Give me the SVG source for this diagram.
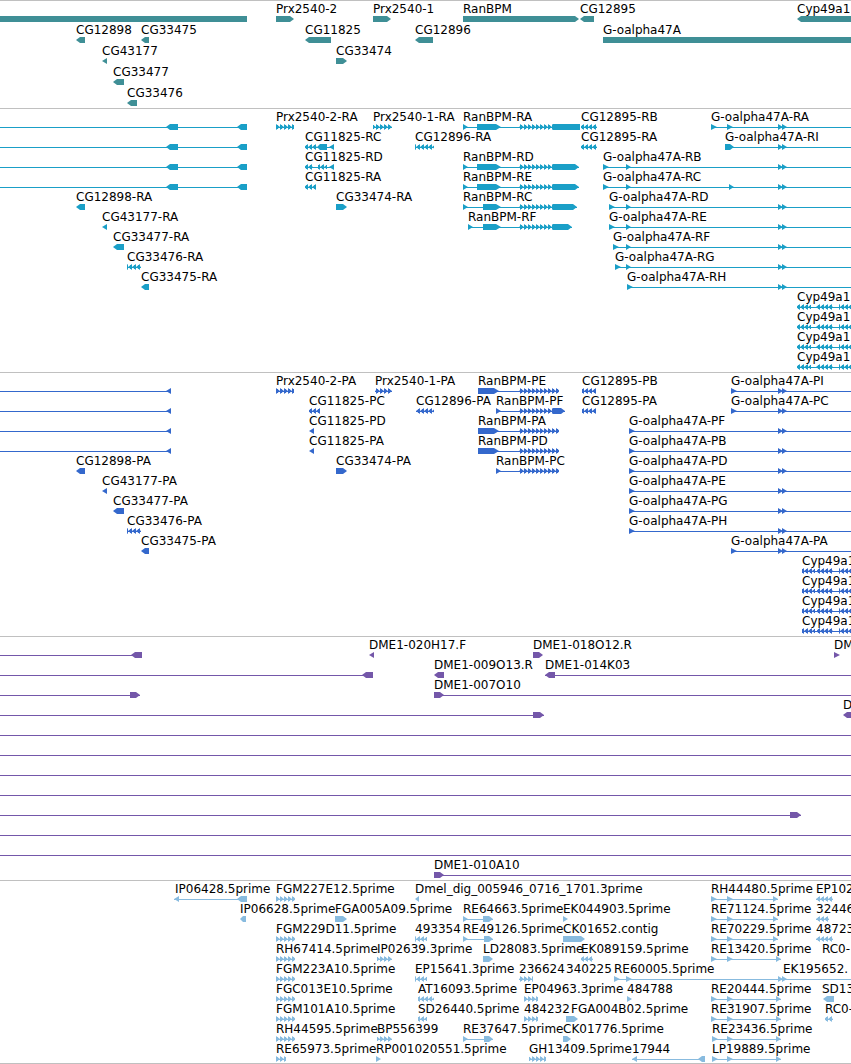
<svg xmlns="http://www.w3.org/2000/svg" width="851" height="1064" viewBox="0 0 851 1064">
<style>
text{font-family:"DejaVu Sans","Liberation Sans",sans-serif;font-size:12px;fill:#000}
.sep{stroke:#c0c0c0;stroke-width:1}
.f1{fill:#3f8f96}
.f2{fill:#1a9fc7}
.f3{fill:#3468cc}
.f4{fill:#7457a9}
.f5{fill:#88bbdf}
.l2{stroke:#1a9fc7;fill:none}
.l3{stroke:#3468cc;fill:none}
.l4{stroke:#7457a9;fill:none}
.l5{stroke:#88bbdf;fill:none}
.c2r{fill:url(#r2)}.c2l{fill:url(#L2)}
.c3r{fill:url(#r3)}.c3l{fill:url(#L3)}
.c5r{fill:url(#r5)}.c5l{fill:url(#L5)}
</style>
<defs>
<pattern id="r2" patternUnits="userSpaceOnUse" x="0" y="-3" width="4" height="6"><g fill="#1a9fc7"><path d="M0 0L4 3L0 6Z"/><path d="M0 1H2V5H0Z"/><path d="M0 3H4V4H0Z"/></g></pattern>
<pattern id="L2" patternUnits="userSpaceOnUse" x="0" y="-3" width="4" height="6"><g fill="#1a9fc7"><path d="M4 0L0 3L4 6Z"/><path d="M2 1H4V5H2Z"/><path d="M0 3H4V4H0Z"/></g></pattern>
<pattern id="r3" patternUnits="userSpaceOnUse" x="0" y="-3" width="4" height="6"><g fill="#3468cc"><path d="M0 0L4 3L0 6Z"/><path d="M0 1H2V5H0Z"/><path d="M0 3H4V4H0Z"/></g></pattern>
<pattern id="L3" patternUnits="userSpaceOnUse" x="0" y="-3" width="4" height="6"><g fill="#3468cc"><path d="M4 0L0 3L4 6Z"/><path d="M2 1H4V5H2Z"/><path d="M0 3H4V4H0Z"/></g></pattern>
<pattern id="r5" patternUnits="userSpaceOnUse" x="0" y="-3" width="4" height="6"><g fill="#88bbdf"><path d="M0 0L4 3L0 6Z"/><path d="M0 1H2V5H0Z"/><path d="M0 3H4V4H0Z"/></g></pattern>
<pattern id="L5" patternUnits="userSpaceOnUse" x="0" y="-3" width="4" height="6"><g fill="#88bbdf"><path d="M4 0L0 3L4 6Z"/><path d="M2 1H4V5H2Z"/><path d="M0 3H4V4H0Z"/></g></pattern>
</defs>
<rect width="851" height="1064" fill="#fff"/>
<g id="separators">
<path class="sep" d="M0 0.5H851M0 108.5H851M0 372.5H851M0 636.5H851M0 880.5H851M0 1063.5H851"/>
</g>

<g id="track-genes">
<g transform="translate(0,19)">
<g id="g-left"><path class="f1" d="M0 -3H247V3H0Z"/></g>
<g id="g-Prx2540-2"><text x="276" y="-6">Prx2540-2</text><path class="f1" d="M276 -3H290L294 0L290 3H276Z"/></g>
<g id="g-Prx2540-1"><text x="373" y="-6">Prx2540-1</text><path class="f1" d="M373 -3H387L391 0L387 3H373Z"/></g>
<g id="g-RanBPM"><text x="463" y="-6">RanBPM</text><path class="f1" d="M463 -3H575L579 0L575 3H463Z"/></g>
<g id="g-CG12895"><text x="580" y="-6">CG12895</text><path class="f1" d="M580 0L584 -3H594V3H584Z"/></g>
<g id="g-Cyp49a1"><text x="797" y="-6">Cyp49a1</text><path class="f1" d="M797 0L801 -3H860V3H801Z"/></g>
</g>
<g transform="translate(0,40)">
<g id="g-CG12898"><text x="76" y="-6">CG12898</text><path class="f1" d="M76 0L80 -3H85V3H80Z"/></g>
<g id="g-CG33475"><text x="141" y="-6">CG33475</text><path class="f1" d="M141 0L145 -3H149V3H145Z"/></g>
<g id="g-CG11825"><text x="305" y="-6">CG11825</text><path class="f1" d="M305 0L309 -3H331V3H309Z"/></g>
<g id="g-CG12896"><text x="415" y="-6">CG12896</text><path class="f1" d="M415 0L419 -3H433V3H419Z"/></g>
<g id="g-Goalpha47A"><text x="603" y="-6">G-oalpha47A</text><path class="f1" d="M603 -3H860V3H603Z"/></g>
</g>
<g transform="translate(0,61)">
<g id="g-CG43177"><text x="102" y="-6">CG43177</text><path class="f1" d="M102 0L107 -3V3Z"/></g>
<g id="g-CG33474"><text x="336" y="-6">CG33474</text><path class="f1" d="M336 -3H343L347 0L343 3H336Z"/></g>
</g>
<g transform="translate(0,82)">
<g id="g-CG33477"><text x="113" y="-6">CG33477</text><path class="f1" d="M113 0L117 -3H124V3H117Z"/></g>
</g>
<g transform="translate(0,103)">
<g id="g-CG33476"><text x="127" y="-6">CG33476</text><path class="f1" d="M127 0L131 -3H137V3H131Z"/></g>
</g>
</g>

<g id="track-transcripts">
<g transform="translate(0,127)">
<g id="t-left-1"><path class="l2" d="M0 .5H247"/><path class="f2" d="M166 0L170 -3H178V3H170ZM237 0L241 -3H247V3H241Z"/></g>
<g id="t-Prx2540-2-RA"><text x="276" y="-6">Prx2540-2-RA</text><rect class="c2r" x="276" y="-3" width="18" height="6"/></g>
<g id="t-Prx2540-1-RA"><text x="373" y="-6">Prx2540-1-RA</text><rect class="c2r" x="373" y="-3" width="19" height="6"/></g>
<g id="t-RanBPM-RA"><text x="463" y="-6">RanBPM-RA</text><path class="l2" d="M463 .5H580"/><path class="f2" d="M463 -3L468 0L463 3ZM477 -3H496L501 0L496 3H477ZM553 -3H580V3H553Z"/><rect class="c2r" x="519" y="-3" width="34" height="6"/></g>
<g id="t-CG12895-RB"><text x="581" y="-6">CG12895-RB</text><rect class="c2l" x="581" y="-3" width="16" height="6"/></g>
<g id="t-Goalpha47A-RA"><text x="711" y="-6">G-oalpha47A-RA</text><path class="l2" d="M711 .5H851"/><path class="f2" d="M711 -3L717 0L711 3ZM727 -3L733 0L727 3ZM778 -3L783 0L778 3ZM782 -3L787 0L782 3Z"/></g>
</g>
<g transform="translate(0,147)">
<g id="t-left-2"><path class="l2" d="M0 .5H247"/><path class="f2" d="M166 0L170 -3H178V3H170ZM237 0L241 -3H247V3H241Z"/></g>
<g id="t-CG11825-RC"><text x="305" y="-6">CG11825-RC</text><path class="l2" d="M305 .5H334"/><rect class="c2l" x="305" y="-3" width="12" height="6"/><path class="f2" d="M317 0L320 -3H327V3H320ZM329 0L334 -3V3Z"/></g>
<g id="t-CG12896-RA"><text x="415" y="-6">CG12896-RA</text><rect class="c2l" x="415" y="-3" width="19" height="6"/></g>
<g id="t-CG12895-RA"><text x="581" y="-6">CG12895-RA</text><rect class="c2l" x="581" y="-3" width="16" height="6"/></g>
<g id="t-Goalpha47A-RI"><text x="725" y="-6">G-oalpha47A-RI</text><path class="l2" d="M725 .5H851"/><path class="f2" d="M725 -3H730L734 0L730 3H725ZM778 -3L783 0L778 3ZM782 -3L787 0L782 3Z"/></g>
</g>
<g transform="translate(0,167)">
<g id="t-left-3"><path class="l2" d="M0 .5H247"/><path class="f2" d="M166 0L170 -3H178V3H170ZM237 0L241 -3H247V3H241Z"/></g>
<g id="t-CG11825-RD"><text x="305" y="-6">CG11825-RD</text><path class="l2" d="M305 .5H334"/><rect class="c2l" x="305" y="-3" width="8" height="6"/><rect class="c2l" x="318" y="-3" width="9" height="6"/><path class="f2" d="M329 0L334 -3V3Z"/></g>
<g id="t-RanBPM-RD"><text x="463" y="-6">RanBPM-RD</text><path class="l2" d="M463 .5H579"/><path class="f2" d="M463 -3L468 0L463 3ZM477 -3H496L501 0L496 3H477ZM553 -3H575L579 0L575 3H553Z"/><rect class="c2r" x="519" y="-3" width="34" height="6"/></g>
<g id="t-Goalpha47A-RB"><text x="603" y="-6">G-oalpha47A-RB</text><path class="l2" d="M603 .5H851"/><path class="f2" d="M603 -3L609 0L603 3ZM626 -3L631 0L626 3ZM778 -3L783 0L778 3ZM782 -3L787 0L782 3Z"/></g>
</g>
<g transform="translate(0,187)">
<g id="t-left-4"><path class="l2" d="M0 .5H247"/><path class="f2" d="M166 0L170 -3H178V3H170ZM237 0L241 -3H247V3H241Z"/></g>
<g id="t-CG11825-RA"><text x="305" y="-6">CG11825-RA</text><rect class="c2l" x="305" y="-3" width="11" height="6"/></g>
<g id="t-RanBPM-RE"><text x="463" y="-6">RanBPM-RE</text><path class="l2" d="M463 .5H579"/><path class="f2" d="M463 -3L468 0L463 3ZM477 -3H496L501 0L496 3H477ZM553 -3H575L579 0L575 3H553Z"/><rect class="c2r" x="519" y="-3" width="34" height="6"/></g>
<g id="t-Goalpha47A-RC"><text x="603" y="-6">G-oalpha47A-RC</text><path class="l2" d="M603 .5H851"/><path class="f2" d="M603 -3L609 0L603 3ZM626 -3L631 0L626 3ZM729 -3L734 0L729 3ZM778 -3L783 0L778 3ZM782 -3L787 0L782 3Z"/></g>
</g>
<g transform="translate(0,207)">
<g id="t-CG12898-RA"><text x="76" y="-6">CG12898-RA</text><path class="f2" d="M76 0L80 -3H85V3H80Z"/></g>
<g id="t-CG33474-RA"><text x="336" y="-6">CG33474-RA</text><path class="f2" d="M336 -3H343L347 0L343 3H336Z"/></g>
<g id="t-RanBPM-RC"><text x="463" y="-6">RanBPM-RC</text><path class="l2" d="M463 .5H577"/><path class="f2" d="M463 -3L468 0L463 3ZM483 -3H496L501 0L496 3H483ZM553 -3H573L577 0L573 3H553Z"/><rect class="c2r" x="519" y="-3" width="34" height="6"/></g>
<g id="t-Goalpha47A-RD"><text x="609" y="-6">G-oalpha47A-RD</text><path class="l2" d="M609 .5H851"/><path class="f2" d="M609 -3L615 0L609 3ZM626 -3L631 0L626 3ZM778 -3L783 0L778 3ZM782 -3L787 0L782 3Z"/></g>
</g>
<g transform="translate(0,227)">
<g id="t-CG43177-RA"><text x="102" y="-6">CG43177-RA</text><path class="f2" d="M102 0L107 -3V3Z"/></g>
<g id="t-RanBPM-RF"><text x="468" y="-6">RanBPM-RF</text><path class="l2" d="M468 .5H572"/><path class="f2" d="M468 -3L473 0L468 3ZM483 -3H496L501 0L496 3H483ZM553 -3H568L572 0L568 3H553Z"/><rect class="c2r" x="519" y="-3" width="34" height="6"/></g>
<g id="t-Goalpha47A-RE"><text x="609" y="-6">G-oalpha47A-RE</text><path class="l2" d="M609 .5H851"/><path class="f2" d="M609 -3L615 0L609 3ZM626 -3L631 0L626 3ZM778 -3L783 0L778 3ZM782 -3L787 0L782 3Z"/></g>
</g>
<g transform="translate(0,247)">
<g id="t-CG33477-RA"><text x="113" y="-6">CG33477-RA</text><path class="f2" d="M113 0L117 -3H124V3H117Z"/></g>
<g id="t-Goalpha47A-RF"><text x="613" y="-6">G-oalpha47A-RF</text><path class="l2" d="M613 .5H851"/><path class="f2" d="M613 -3L619 0L613 3ZM626 -3L631 0L626 3ZM778 -3L783 0L778 3ZM782 -3L787 0L782 3Z"/></g>
</g>
<g transform="translate(0,267)">
<g id="t-CG33476-RA"><text x="127" y="-6">CG33476-RA</text><rect class="c2l" x="127" y="-3" width="14" height="6"/></g>
<g id="t-Goalpha47A-RG"><text x="615" y="-6">G-oalpha47A-RG</text><path class="l2" d="M615 .5H851"/><path class="f2" d="M615 -3L621 0L615 3ZM626 -3L631 0L626 3ZM778 -3L783 0L778 3ZM782 -3L787 0L782 3Z"/></g>
</g>
<g transform="translate(0,287)">
<g id="t-CG33475-RA"><text x="141" y="-6">CG33475-RA</text><path class="f2" d="M141 0L145 -3H149V3H145Z"/></g>
<g id="t-Goalpha47A-RH"><text x="627" y="-6">G-oalpha47A-RH</text><path class="l2" d="M627 .5H851"/><path class="f2" d="M627 -3L633 0L627 3ZM778 -3L783 0L778 3ZM782 -3L787 0L782 3Z"/></g>
</g>
<g id="t-Cyp49a1-1" transform="translate(0,307)"><text x="797" y="-6">Cyp49a1</text><path class="l2" d="M797 .5H851"/><rect class="c2l" x="797" y="-3" width="14" height="6"/><rect class="c2l" x="816" y="-3" width="17" height="6"/><rect class="c2l" x="839" y="-3" width="12" height="6"/></g>
<g id="t-Cyp49a1-2" transform="translate(0,327)"><text x="797" y="-6">Cyp49a1</text><path class="l2" d="M797 .5H851"/><rect class="c2l" x="797" y="-3" width="14" height="6"/><rect class="c2l" x="816" y="-3" width="17" height="6"/><rect class="c2l" x="839" y="-3" width="12" height="6"/></g>
<g id="t-Cyp49a1-3" transform="translate(0,347)"><text x="797" y="-6">Cyp49a1</text><path class="l2" d="M797 .5H851"/><rect class="c2l" x="797" y="-3" width="14" height="6"/><rect class="c2l" x="816" y="-3" width="17" height="6"/><rect class="c2l" x="839" y="-3" width="12" height="6"/></g>
<g id="t-Cyp49a1-4" transform="translate(0,367)"><text x="797" y="-6">Cyp49a1</text><path class="l2" d="M797 .5H851"/><rect class="c2l" x="797" y="-3" width="14" height="6"/><rect class="c2l" x="816" y="-3" width="17" height="6"/><rect class="c2l" x="839" y="-3" width="12" height="6"/></g>
</g>

<g id="track-proteins">
<g transform="translate(0,391)">
<g id="p-left-1"><path class="l3" d="M0 .5H171"/><path class="f3" d="M166 0L171 -3V3Z"/></g>
<g id="p-Prx2540-2-PA"><text x="276" y="-6">Prx2540-2-PA</text><rect class="c3r" x="276" y="-3" width="18" height="6"/></g>
<g id="p-Prx2540-1-PA"><text x="375" y="-6">Prx2540-1-PA</text><rect class="c3r" x="375" y="-3" width="17" height="6"/></g>
<g id="p-RanBPM-PE"><text x="478" y="-6">RanBPM-PE</text><path class="l3" d="M478 .5H559"/><path class="f3" d="M478 -3H494L499 0L494 3H478Z"/><rect class="c3r" x="519" y="-3" width="40" height="6"/></g>
<g id="p-CG12895-PB"><text x="582" y="-6">CG12895-PB</text><rect class="c3l" x="582" y="-3" width="14" height="6"/></g>
<g id="p-Goalpha47A-PI"><text x="731" y="-6">G-oalpha47A-PI</text><path class="l3" d="M731 .5H851"/><path class="f3" d="M731 -3L737 0L731 3ZM778 -3L783 0L778 3ZM782 -3L787 0L782 3Z"/></g>
</g>
<g transform="translate(0,411)">
<g id="p-left-2"><path class="l3" d="M0 .5H171"/><path class="f3" d="M166 0L171 -3V3Z"/></g>
<g id="p-CG11825-PC"><text x="309" y="-6">CG11825-PC</text><rect class="c3l" x="309" y="-3" width="11" height="6"/></g>
<g id="p-CG12896-PA"><text x="416" y="-6">CG12896-PA</text><rect class="c3l" x="416" y="-3" width="18" height="6"/></g>
<g id="p-RanBPM-PF"><text x="496" y="-6">RanBPM-PF</text><path class="l3" d="M496 .5H565"/><path class="f3" d="M496 -3L501 0L496 3ZM553 -3H561L565 0L561 3H553Z"/><rect class="c3r" x="519" y="-3" width="34" height="6"/></g>
<g id="p-CG12895-PA"><text x="582" y="-6">CG12895-PA</text><rect class="c3l" x="582" y="-3" width="14" height="6"/></g>
<g id="p-Goalpha47A-PC"><text x="731" y="-6">G-oalpha47A-PC</text><path class="l3" d="M731 .5H851"/><path class="f3" d="M731 -3L737 0L731 3ZM778 -3L783 0L778 3ZM782 -3L787 0L782 3Z"/></g>
</g>
<g transform="translate(0,431)">
<g id="p-left-3"><path class="l3" d="M0 .5H171"/><path class="f3" d="M166 0L171 -3V3Z"/></g>
<g id="p-CG11825-PD"><text x="309" y="-6">CG11825-PD</text><path class="f3" d="M309 0L314 -3V3Z"/></g>
<g id="p-RanBPM-PA"><text x="478" y="-6">RanBPM-PA</text><path class="l3" d="M478 .5H559"/><path class="f3" d="M478 -3H494L499 0L494 3H478Z"/><rect class="c3r" x="519" y="-3" width="40" height="6"/></g>
<g id="p-Goalpha47A-PF"><text x="629" y="-6">G-oalpha47A-PF</text><path class="l3" d="M629 .5H851"/><path class="f3" d="M629 -3L635 0L629 3ZM778 -3L783 0L778 3ZM782 -3L787 0L782 3Z"/></g>
</g>
<g transform="translate(0,451)">
<g id="p-left-4"><path class="l3" d="M0 .5H171"/><path class="f3" d="M166 0L171 -3V3Z"/></g>
<g id="p-CG11825-PA"><text x="309" y="-6">CG11825-PA</text><path class="f3" d="M309 0L314 -3V3Z"/></g>
<g id="p-RanBPM-PD"><text x="478" y="-6">RanBPM-PD</text><path class="l3" d="M478 .5H559"/><path class="f3" d="M478 -3H494L499 0L494 3H478Z"/><rect class="c3r" x="519" y="-3" width="40" height="6"/></g>
<g id="p-Goalpha47A-PB"><text x="629" y="-6">G-oalpha47A-PB</text><path class="l3" d="M629 .5H851"/><path class="f3" d="M629 -3L635 0L629 3ZM778 -3L783 0L778 3ZM782 -3L787 0L782 3Z"/></g>
</g>
<g transform="translate(0,471)">
<g id="p-CG12898-PA"><text x="76" y="-6">CG12898-PA</text><path class="f3" d="M76 0L80 -3H85V3H80Z"/></g>
<g id="p-CG33474-PA"><text x="336" y="-6">CG33474-PA</text><path class="f3" d="M336 -3H343L347 0L343 3H336Z"/></g>
<g id="p-RanBPM-PC"><text x="496" y="-6">RanBPM-PC</text><path class="l3" d="M496 .5H559"/><path class="f3" d="M496 -3L501 0L496 3Z"/><rect class="c3r" x="519" y="-3" width="40" height="6"/></g>
<g id="p-Goalpha47A-PD"><text x="629" y="-6">G-oalpha47A-PD</text><path class="l3" d="M629 .5H851"/><path class="f3" d="M629 -3L635 0L629 3ZM778 -3L783 0L778 3ZM782 -3L787 0L782 3Z"/></g>
</g>
<g transform="translate(0,491)">
<g id="p-CG43177-PA"><text x="102" y="-6">CG43177-PA</text><path class="f3" d="M102 0L107 -3V3Z"/></g>
<g id="p-Goalpha47A-PE"><text x="629" y="-6">G-oalpha47A-PE</text><path class="l3" d="M629 .5H851"/><path class="f3" d="M629 -3L635 0L629 3ZM778 -3L783 0L778 3ZM782 -3L787 0L782 3Z"/></g>
</g>
<g transform="translate(0,511)">
<g id="p-CG33477-PA"><text x="113" y="-6">CG33477-PA</text><path class="f3" d="M113 0L117 -3H124V3H117Z"/></g>
<g id="p-Goalpha47A-PG"><text x="629" y="-6">G-oalpha47A-PG</text><path class="l3" d="M629 .5H851"/><path class="f3" d="M629 -3L635 0L629 3ZM778 -3L783 0L778 3ZM782 -3L787 0L782 3Z"/></g>
</g>
<g transform="translate(0,531)">
<g id="p-CG33476-PA"><text x="127" y="-6">CG33476-PA</text><rect class="c3l" x="127" y="-3" width="14" height="6"/></g>
<g id="p-Goalpha47A-PH"><text x="629" y="-6">G-oalpha47A-PH</text><path class="l3" d="M629 .5H851"/><path class="f3" d="M629 -3L635 0L629 3ZM778 -3L783 0L778 3ZM782 -3L787 0L782 3Z"/></g>
</g>
<g transform="translate(0,551)">
<g id="p-CG33475-PA"><text x="141" y="-6">CG33475-PA</text><path class="f3" d="M141 0L145 -3H149V3H145Z"/></g>
<g id="p-Goalpha47A-PA"><text x="731" y="-6">G-oalpha47A-PA</text><path class="l3" d="M731 .5H851"/><path class="f3" d="M731 -3L737 0L731 3ZM778 -3L783 0L778 3ZM782 -3L787 0L782 3Z"/></g>
</g>
<g id="p-Cyp49a1-1" transform="translate(0,571)"><text x="802" y="-6">Cyp49a1</text><path class="l3" d="M802 .5H851"/><rect class="c3l" x="802" y="-3" width="13" height="6"/><rect class="c3l" x="817" y="-3" width="16" height="6"/><rect class="c3l" x="839" y="-3" width="12" height="6"/></g>
<g id="p-Cyp49a1-2" transform="translate(0,591)"><text x="802" y="-6">Cyp49a1</text><path class="l3" d="M802 .5H851"/><rect class="c3l" x="802" y="-3" width="13" height="6"/><rect class="c3l" x="817" y="-3" width="16" height="6"/><rect class="c3l" x="839" y="-3" width="12" height="6"/></g>
<g id="p-Cyp49a1-3" transform="translate(0,611)"><text x="802" y="-6">Cyp49a1</text><path class="l3" d="M802 .5H851"/><rect class="c3l" x="802" y="-3" width="13" height="6"/><rect class="c3l" x="817" y="-3" width="16" height="6"/><rect class="c3l" x="839" y="-3" width="12" height="6"/></g>
<g id="p-Cyp49a1-4" transform="translate(0,631)"><text x="802" y="-6">Cyp49a1</text><path class="l3" d="M802 .5H851"/><rect class="c3l" x="802" y="-3" width="13" height="6"/><rect class="c3l" x="817" y="-3" width="16" height="6"/><rect class="c3l" x="839" y="-3" width="12" height="6"/></g>
</g>

<g id="track-bac-ends">
<g transform="translate(0,655)">
<g id="b-left-1"><path class="l4" d="M0 .5H142"/><path class="f4" d="M131 0L135 -3H142V3H135Z"/></g>
<g id="b-DME1-020H17F"><text x="369" y="-6">DME1-020H17.F</text><path class="f4" d="M369 0L374 -3V3Z"/></g>
<g id="b-DME1-018O12R"><text x="533" y="-6">DME1-018O12.R</text><path class="f4" d="M533 -3H539L543 0L539 3H533Z"/></g>
<g id="b-DM"><text x="834" y="-6">DM</text><path class="f4" d="M834 -3L840 0L834 3Z"/></g>
</g>
<g transform="translate(0,675)">
<g id="b-left-2"><path class="l4" d="M0 .5H373"/><path class="f4" d="M362 0L366 -3H373V3H366Z"/></g>
<g id="b-DME1-009O13R"><text x="434" y="-6">DME1-009O13.R</text><path class="f4" d="M434 0L438 -3H444V3H438Z"/></g>
<g id="b-DME1-014K03"><text x="545" y="-6">DME1-014K03</text><path class="l4" d="M545 .5H851"/><path class="f4" d="M545 0L549 -3H555V3H549Z"/></g>
</g>
<g transform="translate(0,695)">
<g id="b-left-3"><path class="l4" d="M0 .5H140"/><path class="f4" d="M130 -3H136L140 0L136 3H130Z"/></g>
<g id="b-DME1-007O10"><text x="434" y="-6">DME1-007O10</text><path class="l4" d="M434 .5H851"/><path class="f4" d="M434 -3H440L444 0L440 3H434Z"/></g>
</g>
<g transform="translate(0,715)">
<g id="b-left-4"><path class="l4" d="M0 .5H544"/><path class="f4" d="M533 -3H540L544 0L540 3H533Z"/></g>
<g id="b-D"><text x="843" y="-6">D</text><path class="f4" d="M843 0L847 -3H855V3H847Z"/></g>
</g>
<g id="b-left-5"><path class="l4" d="M0 735.5H851M0 755.5H851M0 775.5H851M0 795.5H851M0 835.5H851M0 855.5H851"/></g>
<g id="b-left-6" transform="translate(0,815)"><path class="l4" d="M0 .5H801"/><path class="f4" d="M790 -3H797L801 0L797 3H790Z"/></g>
<g id="b-DME1-010A10" transform="translate(0,875)"><text x="434" y="-6">DME1-010A10</text><path class="l4" d="M434 .5H851"/><path class="f4" d="M434 -3H440L444 0L440 3H434Z"/></g>
</g>

<g id="track-ests">
<g transform="translate(0,899)">
<g id="e-IP06428"><text x="175" y="-6">IP06428.5prime</text><path class="l5" d="M174 .5H247"/><path class="f5" d="M174 0L179 -3V3ZM237 0L241 -3H247V3H241Z"/></g>
<g id="e-FGM227E12"><text x="276" y="-6">FGM227E12.5prime</text><rect class="c5r" x="276" y="-3" width="19" height="6"/></g>
<g id="e-Dmel_dig"><text x="415" y="-6">Dmel_dig_005946_0716_1701.3prime</text><path class="f5" d="M415 0L419 -3V3Z"/></g>
<g id="e-RH44480"><text x="711" y="-6">RH44480.5prime</text><path class="l5" d="M711 .5H778"/><path class="f5" d="M711 -3L717 0L711 3ZM727 -3L733 0L727 3ZM773 -3L778 0L773 3Z"/></g>
<g id="e-EP102"><text x="816" y="-6">EP102</text><rect class="c5l" x="816" y="-3" width="17" height="6"/></g>
</g>
<g transform="translate(0,919)">
<g id="e-IP06628"><text x="240" y="-6">IP06628.5prime</text><path class="f5" d="M240 0L243 -3H246V3H243Z"/></g>
<g id="e-FGA005A09"><text x="335" y="-6">FGA005A09.5prime</text><path class="f5" d="M335 -3H343L347 0L343 3H335Z"/></g>
<g id="e-RE64663"><text x="463" y="-6">RE64663.5prime</text><path class="l5" d="M463 .5H493"/><path class="f5" d="M463 -3L468 0L463 3ZM483 -3H489L493 0L489 3H483Z"/></g>
<g id="e-EK044903"><text x="563" y="-6">EK044903.5prime</text><path class="f5" d="M563 -3L568 0L563 3Z"/></g>
<g id="e-RE71124"><text x="711" y="-6">RE71124.5prime</text><path class="l5" d="M711 .5H778"/><path class="f5" d="M711 -3L717 0L711 3ZM727 -3L733 0L727 3ZM773 -3L778 0L773 3Z"/></g>
<g id="e-32446"><text x="816" y="-6">32446</text><rect class="c5l" x="816" y="-3" width="13" height="6"/></g>
</g>
<g transform="translate(0,939)">
<g id="e-FGM229D11"><text x="276" y="-6">FGM229D11.5prime</text><rect class="c5r" x="276" y="-3" width="19" height="6"/></g>
<g id="e-493354"><text x="415" y="-6">493354</text><rect class="c5l" x="415" y="-3" width="12" height="6"/></g>
<g id="e-RE49126"><text x="463" y="-6">RE49126.5prime</text><path class="l5" d="M463 .5H493"/><path class="f5" d="M463 -3L468 0L463 3ZM484 -3H489L493 0L489 3H484Z"/></g>
<g id="e-CK01652"><text x="563" y="-6">CK01652.contig</text><path class="f5" d="M563 -3H581L585 0L581 3H563Z"/></g>
<g id="e-RE70229"><text x="711" y="-6">RE70229.5prime</text><path class="l5" d="M711 .5H778"/><path class="f5" d="M711 -3L717 0L711 3ZM727 -3L733 0L727 3ZM773 -3L778 0L773 3Z"/></g>
<g id="e-48723"><text x="816" y="-6">48723</text><rect class="c5l" x="816" y="-3" width="17" height="6"/></g>
</g>
<g transform="translate(0,959)">
<g id="e-RH67414"><text x="276" y="-6">RH67414.5prime</text><rect class="c5r" x="276" y="-3" width="19" height="6"/></g>
<g id="e-IP02639"><text x="377" y="-6">IP02639.3prime</text><rect class="c5r" x="377" y="-3" width="15" height="6"/></g>
<g id="e-LD28083"><text x="483" y="-6">LD28083.5prime</text><path class="f5" d="M483 -3H489L493 0L489 3H483Z"/></g>
<g id="e-EK089159"><text x="581" y="-6">EK089159.5prime</text><rect class="c5l" x="581" y="-3" width="12" height="6"/></g>
<g id="e-RE13420"><text x="711" y="-6">RE13420.5prime</text><path class="l5" d="M711 .5H781"/><path class="f5" d="M711 -3L717 0L711 3ZM727 -3L733 0L727 3ZM776 -3L781 0L776 3Z"/></g>
<g id="e-RC0-a"><text x="822" y="-6">RC0-</text></g>
</g>
<g transform="translate(0,979)">
<g id="e-FGM223A10"><text x="276" y="-6">FGM223A10.5prime</text><rect class="c5r" x="276" y="-3" width="19" height="6"/></g>
<g id="e-EP15641"><text x="415" y="-6">EP15641.3prime</text><rect class="c5l" x="415" y="-3" width="12" height="6"/></g>
<g id="e-236624"><text x="519" y="-6">236624</text><rect class="c5r" x="519" y="-3" width="14" height="6"/></g>
<g id="e-340225"><text x="566" y="-6">340225</text></g>
<g id="e-RE60005"><text x="614" y="-6">RE60005.5prime</text><path class="l5" d="M614 .5H851"/><path class="f5" d="M614 -3L620 0L614 3ZM626 -3L632 0L626 3ZM778 -3L783 0L778 3ZM782 -3L787 0L782 3Z"/></g>
<g id="e-EK195652"><text x="783" y="-6">EK195652.</text></g>
</g>
<g transform="translate(0,999)">
<g id="e-FGC013E10"><text x="276" y="-6">FGC013E10.5prime</text><rect class="c5r" x="276" y="-3" width="19" height="6"/></g>
<g id="e-AT16093"><text x="418" y="-6">AT16093.5prime</text><rect class="c5l" x="418" y="-3" width="16" height="6"/></g>
<g id="e-EP04963"><text x="524" y="-6">EP04963.3prime</text><rect class="c5r" x="524" y="-3" width="14" height="6"/></g>
<g id="e-484788"><text x="627" y="-6">484788</text><path class="f5" d="M627 -3L632 0L627 3Z"/></g>
<g id="e-RE20444"><text x="711" y="-6">RE20444.5prime</text><path class="l5" d="M711 .5H781"/><path class="f5" d="M711 -3L717 0L711 3ZM727 -3L733 0L727 3ZM776 -3L781 0L776 3Z"/></g>
<g id="e-SD13"><text x="822" y="-6">SD13</text><path class="f5" d="M823 0L827 -3H834V3H827Z"/></g>
</g>
<g transform="translate(0,1019)">
<g id="e-FGM101A10"><text x="276" y="-6">FGM101A10.5prime</text><rect class="c5r" x="276" y="-3" width="19" height="6"/></g>
<g id="e-SD26440"><text x="418" y="-6">SD26440.5prime</text><rect class="c5l" x="418" y="-3" width="9" height="6"/></g>
<g id="e-484232"><text x="524" y="-6">484232</text><rect class="c5r" x="524" y="-3" width="14" height="6"/></g>
<g id="e-FGA004B02"><text x="571" y="-6">FGA004B02.5prime</text><path class="f5" d="M566 -3H574L578 0L574 3H566Z"/></g>
<g id="e-RE31907"><text x="711" y="-6">RE31907.5prime</text><path class="l5" d="M711 .5H781"/><path class="f5" d="M711 -3L717 0L711 3ZM727 -3L733 0L727 3ZM776 -3L781 0L776 3Z"/></g>
<g id="e-RC0-b"><text x="825" y="-6">RC0-</text><rect class="c5l" x="825" y="-3" width="8" height="6"/></g>
</g>
<g transform="translate(0,1039)">
<g id="e-RH44595"><text x="276" y="-6">RH44595.5prime</text><rect class="c5r" x="276" y="-3" width="19" height="6"/></g>
<g id="e-BP556399"><text x="377" y="-6">BP556399</text><rect class="c5r" x="377" y="-3" width="15" height="6"/></g>
<g id="e-RE37647"><text x="463" y="-6">RE37647.5prime</text><path class="l5" d="M463 .5H493"/><path class="f5" d="M463 -3L468 0L463 3ZM484 -3H489L493 0L489 3H484Z"/></g>
<g id="e-CK01776"><text x="563" y="-6">CK01776.5prime</text><path class="f5" d="M563 -3H567L571 0L567 3H563Z"/></g>
<g id="e-RE23436"><text x="712" y="-6">RE23436.5prime</text><path class="l5" d="M712 .5H781"/><path class="f5" d="M712 -3L718 0L712 3ZM727 -3L733 0L727 3ZM776 -3L781 0L776 3Z"/></g>
</g>
<g transform="translate(0,1059)">
<g id="e-RE65973"><text x="276" y="-6">RE65973.5prime</text><rect class="c5r" x="276" y="-3" width="10" height="6"/></g>
<g id="e-RP001020551"><text x="376" y="-6">RP001020551.5prime</text><path class="f5" d="M376 -3L381 0L376 3Z"/></g>
<g id="e-GH13409"><text x="529" y="-6">GH13409.5prime</text><rect class="c5r" x="529" y="-3" width="17" height="6"/></g>
<g id="e-17944"><text x="632" y="-6">17944</text><path class="l5" d="M632 .5H705"/><path class="f5" d="M632 0L637 -3V3ZM698 0L702 -3H705V3H702Z"/></g>
<g id="e-LP19889"><text x="712" y="-6">LP19889.5prime</text><path class="l5" d="M712 .5H781"/><path class="f5" d="M712 -3L718 0L712 3ZM727 -3L733 0L727 3ZM776 -3L781 0L776 3Z"/></g>
</g>
</g>
</svg>
